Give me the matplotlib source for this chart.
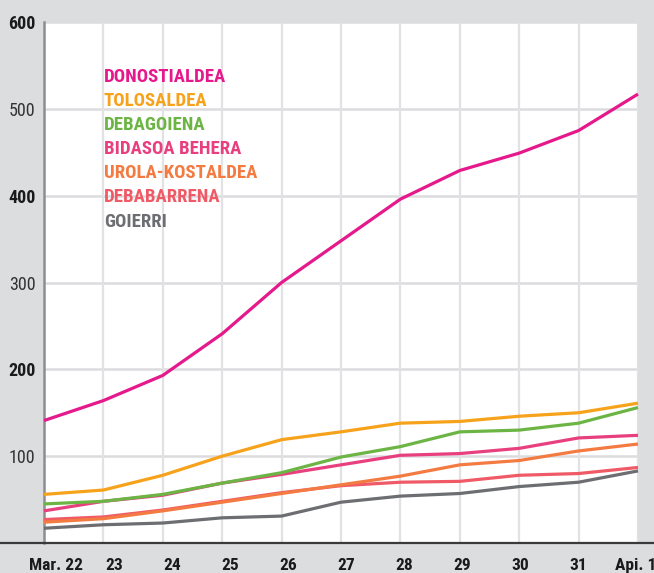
import matplotlib
matplotlib.use("Agg")
import matplotlib.pyplot as plt
from matplotlib.lines import Line2D
from matplotlib import font_manager

dates = ["Mar. 22", "23", "24", "25", "26", "27", "28", "29", "30", "31", "Api. 1"]
donostialdea = [141, 164, 193, 241, 300, 348, 396, 429, 449, 475, 517]
tolosaldea = [56, 61, 78, 100, 119, 128, 138, 140, 146, 150, 161]
debagoiena = [45, 48, 56, 69, 81, 99, 111, 128, 130, 138, 156]
bidasoa = [37, 48, 55, 69, 79, 90, 101, 103, 109, 121, 124]
urola = [24, 28, 37, 47, 57, 67, 77, 90, 95, 106, 114]
debabarrena = [27, 30, 38, 48, 58, 66, 70, 71, 78, 80, 87]
goierri = [17, 21, 23, 29, 31, 47, 54, 57, 65, 70, 83]

names = ["DONOSTIALDEA", "TOLOSALDEA", "DEBAGOIENA", "BIDASOA BEHERA",
         "UROLA-KOSTALDEA", "DEBABARRENA", "GOIERRI"]
series = [donostialdea, tolosaldea, debagoiena, bidasoa, urola, debabarrena, goierri]
colors = ["#e5198c", "#f7a21b", "#6cb545", "#e8407f", "#f37b42", "#ef5a66", "#6d6e71"]
yticks = [100, 200, 300, 400, 500, 600]

avail = {f.name for f in font_manager.fontManager.ttflist}
cond = "DejaVu Sans"
for cand in ["Roboto Condensed", "Liberation Sans Narrow", "Archivo Narrow",
             "PT Sans Narrow", "Fira Sans Condensed", "Open Sans Condensed",
             "Barlow Condensed", "Noto Sans"]:
    if cand in avail:
        cond = cand
        break
plt.rcParams['font.family'] = [cond, 'DejaVu Sans']

bg = "#dcdddf"
fig = plt.figure(figsize=(6.54, 5.73), dpi=100, facecolor=bg)
ax = fig.add_axes([44/654, 30/573, (638-44)/654, (543-22)/573])
ax.set_facecolor("white")

x = list(range(len(dates)))
ax.set_xlim(0, len(dates) - 1)
ax.set_ylim(0, 600)

ax.set_xticks(x, minor=True)
ax.grid(which="minor", axis="x", color="#e2e2e4", lw=1.6)
for yv in yticks:
    ax.axhline(yv, color="#dcdcde", lw=1.8, zorder=1)

order = [6, 5, 4, 3, 2, 1, 0]
for i in order:
    ax.plot(x, series[i], color=colors[i], lw=2.3, solid_joinstyle="round",
            solid_capstyle="butt", zorder=3, clip_on=False)

lab_pos = [(12 + 58 * i) / 59.4 for i in range(len(dates))]
ax.set_xticks(lab_pos)
ax.set_xticklabels(dates, fontsize=12.5, fontweight="bold", color="#1a1a1a")
ax.tick_params(axis="x", which="both", length=0, pad=11)

ax.set_yticks(yticks)
ax.set_yticklabels([str(v) for v in yticks], fontsize=13, color="#333333")
for t, v in zip(ax.get_yticklabels(), yticks):
    if v in (200, 400, 600):
        t.set_fontweight("bold")
        t.set_color("#1a1a1a")
ax.tick_params(axis="y", length=0, pad=6)

for s in ["top", "right", "bottom"]:
    ax.spines[s].set_visible(False)
ax.spines["left"].set_color("#8e8e90")
ax.spines["left"].set_linewidth(1.8)

fig.add_artist(Line2D([0, 1], [30/573, 30/573], transform=fig.transFigure,
                      color="#3a3a3a", lw=1.6))

for k, (n, c) in enumerate(zip(names, colors)):
    fig.text(104/654, 1 - (77 + 24.1 * k)/573, n, color=c, fontsize=13.5,
             fontweight="bold", ha="left", va="center")

fig.savefig("out.png", dpi=100, facecolor=bg)
